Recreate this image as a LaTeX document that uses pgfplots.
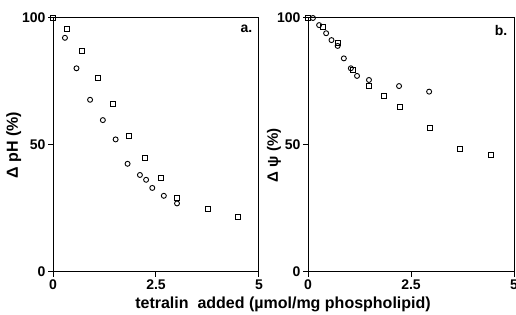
\documentclass[border=0pt]{standalone}
\usepackage{pgfplots}
\pgfplotsset{compat=1.18}
\usepackage{fontspec}
\setmainfont{Liberation Sans}
\begin{document}
\begin{tikzpicture}[font=\fontsize{14}{16}\selectfont\bfseries]
\useasboundingbox (0pt,0pt) rectangle (516pt,315pt);
\pgfplotsset{
  panel/.style={
    scale only axis, width=206pt, height=254pt,
    xmin=0, xmax=5, ymin=0, ymax=100,
    xtick={0,2.5,5}, ytick={0,50,100},
    xticklabels={0,2.5,5},
    tick align=outside, tick pos=left,
    major tick length=5pt,
    axis line style={line width=1pt}, tick style={line width=1pt, black},
    /pgf/number format/assume math mode=true,
    clip=false,
    ticklabel style={font=\fontsize{14}{16}\selectfont\bfseries},
    yticklabel style={xshift=1pt},
    xticklabel style={yshift=1pt},
    ylabel style={anchor=center},
  },
  sq/.style={only marks, mark=square, mark size=2.5pt, mark options={line width=0.9pt, black}},
  ci/.style={only marks, mark=o, mark size=2.5pt, mark options={line width=0.9pt, black}},
}
\begin{axis}[panel, at={(53pt,43pt)}, anchor=south west, ylabel={Δ pH (\%)},
  ylabel style={font=\fontsize{16}{18}\selectfont\bfseries, at={(axis description cs:-0.19,0.5)}}]
\addplot[sq] coordinates {(0,100) (0.33,95.7) (0.70,87.1) (1.08,76.5) (1.46,66.0) (1.84,53.5) (2.22,44.8) (2.61,36.9) (3.0,29.3) (3.75,24.7) (4.48,21.5)};
\addplot[ci] coordinates {(0.29,92.2) (0.57,80.2) (0.90,67.8) (1.21,59.8) (1.52,52.2) (1.81,42.6) (2.11,38.2) (2.26,36.3) (2.41,33.1) (2.69,30.0) (3.01,27.0)};
\node[anchor=north east] at (rel axis cs:0.985,0.985) {a.};
\end{axis}
\begin{axis}[panel, at={(308pt,43pt)}, anchor=south west, ylabel={Δ ψ (\%)},
  ylabel style={font=\fontsize{15}{17}\selectfont\bfseries, at={(axis description cs:-0.165,0.46)}}]
\addplot[sq] coordinates {(0,100) (0.36,96.6) (0.72,90.0) (1.09,79.5) (1.48,73.2) (1.85,69.3) (2.23,65.1) (2.96,56.6) (3.70,48.3) (4.45,46.1)};
\addplot[ci] coordinates {(0.12,100) (0.27,97.2) (0.44,94.0) (0.57,91.3) (0.72,89.0) (0.87,84.1) (1.04,80.2) (1.19,77.2) (1.48,75.6) (2.21,73.2) (2.94,71.0)};
\node[anchor=north east] at (rel axis cs:0.985,0.985) {b.};
\end{axis}
\node[anchor=base, font=\fontsize{16}{18}\selectfont\bfseries] at (283pt,6pt) {tetralin\ \ added (µmol/mg phospholipid)};
\end{tikzpicture}
\end{document}
